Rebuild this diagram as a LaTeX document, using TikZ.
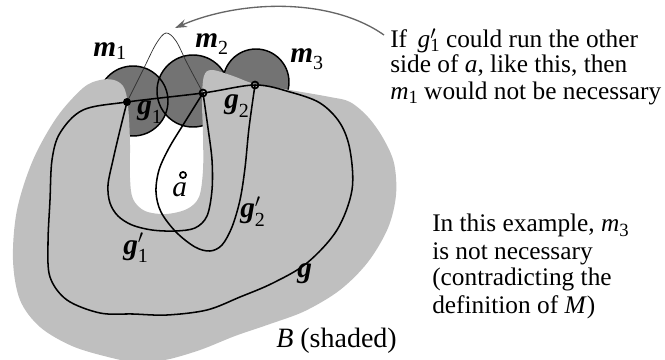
\documentclass[tikz,border=0pt]{standalone}
\usepackage{fontspec}
\setmainfont{Liberation Serif}
\usetikzlibrary{arrows.meta}
\definecolor{lightB}{gray}{0.75}
\definecolor{darkM}{gray}{0.45}
\definecolor{arrowG}{gray}{0.4}
\newcommand\lsub[2]{\raisebox{-#1}{\fontsize{15}{15}\selectfont #2}}
\newcommand\tsub[2]{\raisebox{-#1}{\fontsize{14}{14}\selectfont #2}}
\newcommand\pr{\rlap{$^{\prime}$}}
\begin{document}
\begin{tikzpicture}[x=0.75pt,y=-0.75pt,
  curve/.style={line width=1.15pt, black},
  mcirc/.style={draw=black, line width=1.1pt},
  ring/.style={draw=black, line width=1.3pt},
  lab/.style={font=\fontsize{22}{22}\selectfont, anchor=base west, inner sep=0pt},
  txt/.style={font=\fontsize{19}{19}\selectfont, anchor=base west, inner sep=0pt}]
\useasboundingbox (0,0) rectangle (665,360);
% points
\coordinate (p1) at (127,102);
\coordinate (p2) at (203,93);
\coordinate (p3) at (255,85);
\coordinate (pa) at (183,175);
% circles m1, m2, m3
\fill[darkM] (133,101) circle[radius=26.25pt];
\fill[darkM] (193,91) circle[radius=27pt];
\fill[darkM] (256,82) circle[radius=24.75pt];
\draw[mcirc] (133,101) circle[radius=26.25pt];
\draw[mcirc] (193,91) circle[radius=27pt];
\draw[mcirc] (256,82) circle[radius=24.75pt];
% region B
\fill[lightB] plot[smooth cycle, tension=0.55] coordinates {
 (100,80) (114,80) (123,86) (127,98) (129,118) (130,145) (130,178) (133,199)
 (145,211) (166,214) (187,209) (199,197) (203,170) (203,135) (202,100)
 (204,76) (212,70) (233,76) (255,84) (290,90) (330,97) (350,102) (368,117)
 (383,138) (394,163) (396,195) (388,228) (368,262) (340,290) (305,311)
 (270,324) (235,336) (200,350) (165,360) (135,362) (108,357) (72,346)
 (40,327) (20,300) (13,260) (17,210) (33,160) (57,117) (83,88)};
% curve g
\draw[curve] plot[smooth cycle, tension=0.55] coordinates {
 (127,102) (203,93) (255,85) (290,92) (320,103) (340,123) (350,150)
 (352,190) (337,230) (307,263) (273,283) (240,297) (207,310) (167,315)
 (133,314) (100,313) (67,300) (50,277) (48,243) (50,200) (52,160)
 (60,133) (83,110)};
% curve g1'
\draw[curve] plot[smooth, tension=0.55] coordinates {
 (127,102) (120,130) (113,160) (108,185) (110,203) (118,216) (132,225)
 (152,230) (175,231) (195,228) (207,216) (212,190) (212,160) (208,128) (203,93)};
% curve g2'
\draw[curve] plot[smooth, tension=0.55] coordinates {
 (203,93) (183,125) (169,148) (159,170) (156,192) (161,212) (176,232)
 (195,247) (210,251) (222,245) (232,227) (240,200) (245,168) (249,128) (255,85)};
% alternative route (thin)
\draw[line width=0.55pt, black!80] plot[smooth, tension=0.55] coordinates {
 (127,102) (143,70) (156,44) (166,33) (176,41) (187,63) (203,93)};
% dots
\fill[black] (p1) circle[radius=3pt];
\draw[ring] (p2) circle[radius=2.6pt];
\draw[ring] (p3) circle[radius=2.6pt];
\draw[ring, fill=white] (pa) circle[radius=2.3pt];
% labels in the figure
\node[lab] (lm1) at (93,57) {\textbf{\textit{m}}\lsub{2pt}{1}};
\node[lab] (lm2) at (195,48) {\textbf{\textit{m}}\lsub{5pt}{2}};
\node[lab] (lm3) at (290,63) {\textbf{\textit{m}}\lsub{5pt}{3}};
\node[lab] (lg1) at (137,115) {\textbf{\textit{g}}\lsub{6pt}{1}};
\node[lab] (lg2) at (224,109) {\textbf{\textit{g}}\lsub{6pt}{2}};
\node[lab] (la) at (172,196) {\textit{a}};
\node[lab] (lg1p) at (123,254) {\textbf{\textit{g}}\pr\lsub{6pt}{1}};
\node[lab] (lg2p) at (240,218) {\textbf{\textit{g}}\pr\lsub{6pt}{2}};
\node[lab] (lg) at (297,277) {\textbf{\textit{g}}};
\node[anchor=base west, inner sep=0pt, font=\fontsize{21}{21}\selectfont] (lB) at (276,347) {\textit{B} (shaded)};
% explanatory text
\node[txt] (t1) at (390,48) {If \,\textit{g}\pr\tsub{3pt}{1} could run the other};
\node[txt] (t2) at (390,73) {side of \textit{a}, like this, then};
\node[txt] (t3) at (390,100) {\textit{m}\tsub{3pt}{1} would not be necessary};
\node[txt] (u1) at (432,232) {In this example, \textit{m}\tsub{3pt}{3}};
\node[txt] (u2) at (432,259) {is not necessary};
\node[txt] (u3) at (432,286) {(contradicting the};
\node[txt] (u4) at (432,313) {definition of \textit{M})};
% arrow
\coordinate (astart) at (384,35);
\coordinate (aend) at (175,28);
\draw[arrowG, line width=1pt, -{Stealth[length=9pt,width=6pt]}] (astart) .. controls (330,-3) and (240,0) .. (aend);
\end{tikzpicture}
\end{document}
